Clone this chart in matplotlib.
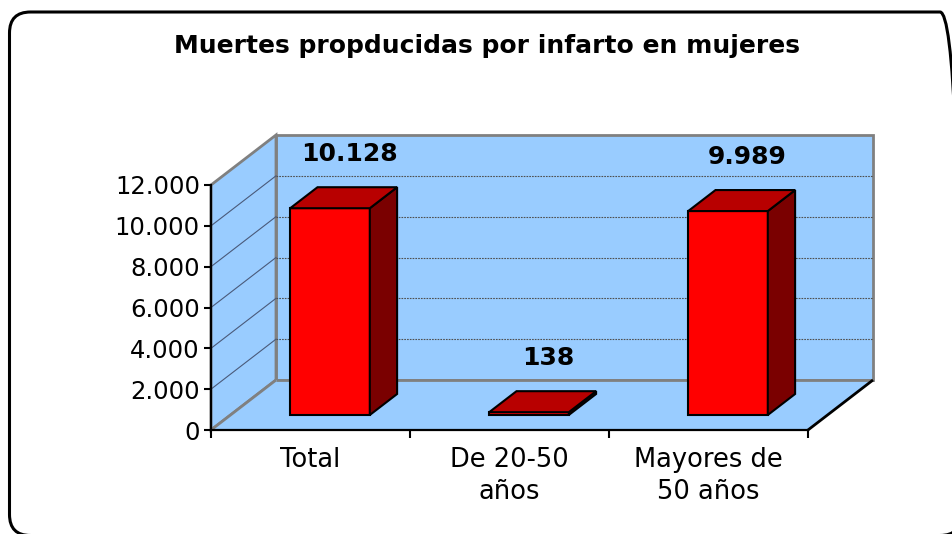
import matplotlib
matplotlib.use("Agg")
import matplotlib.pyplot as plt
from matplotlib.patches import Polygon, FancyBboxPatch

# ---- data ----
categories = ["Total", "De 20-50\naños", "Mayores de\n50 años"]
values = [10128, 138, 9989]
value_labels = ["10.128", "138", "9.989"]
yticks = [0, 2000, 4000, 6000, 8000, 10000, 12000]
title = "Muertes propducidas por infarto en mujeres"

# ---- style / layout ----
W, H = 953, 534
DPI = 100
wall_color = "#99CCFF"
edge_grey = "#808080"
grid_color = "#505050"
front_color = "#FF0000"
top_color = "#B80000"
side_color = "#7A0000"

fig = plt.figure(figsize=(W / DPI, H / DPI), dpi=DPI)
fig.patch.set_facecolor("white")

# rounded chart-area border (in inches)
bx0, bx1, by0, by1 = 9.5, 961, -1.5, 522
border = FancyBboxPatch((bx0 / DPI, by0 / DPI), (bx1 - bx0) / DPI, (by1 - by0) / DPI,
                        boxstyle="round,pad=0,rounding_size=0.21",
                        transform=fig.dpi_scale_trans, facecolor="none",
                        edgecolor="black", linewidth=2.2)
fig.patches.append(border)

fig.text(486.5 / W, (H - 53) / H, title, ha="center", va="baseline",
         fontsize=18, fontweight="bold", family="DejaVu Sans")

# front plane of plot area (pixels)
fx0, fx1, fy0, fy1 = 211, 808, 430, 185
ax = fig.add_axes([fx0 / W, (H - fy0) / H, (fx1 - fx0) / W, (fy0 - fy1) / H])
ax.set_facecolor("none")
ncat = len(categories)
xmin, xmax = -0.5, ncat - 0.5
ymin, ymax = yticks[0], yticks[-1]
ax.set_xlim(xmin, xmax)
ax.set_ylim(ymin, ymax)

# depth offsets (pixels) converted to data units
depth_px_x, depth_px_y = 65, 50
DX = depth_px_x * (xmax - xmin) / (fx1 - fx0)
DY = depth_px_y * (ymax - ymin) / (fy0 - fy1)


def proj(x, v, z):
    return (x + z * DX, v + z * DY)


def poly(pts, **kw):
    p = Polygon([proj(*q) for q in pts], closed=True, clip_on=False, **kw)
    ax.add_patch(p)
    return p


# walls
poly([(xmin, ymin, 1), (xmax, ymin, 1), (xmax, ymax, 1), (xmin, ymax, 1)],
     facecolor=wall_color, edgecolor=edge_grey, linewidth=2, zorder=1)
poly([(xmin, ymin, 0), (xmin, ymin, 1), (xmin, ymax, 1), (xmin, ymax, 0)],
     facecolor=wall_color, edgecolor=edge_grey, linewidth=2, zorder=1)
poly([(xmin, ymin, 0), (xmax, ymin, 0), (xmax, ymin, 1), (xmin, ymin, 1)],
     facecolor=wall_color, edgecolor="none", linewidth=0, zorder=1.5)

# gridlines
for v in yticks[1:-1]:
    a, b = proj(xmin, v, 1), proj(xmax, v, 1)
    ax.plot([a[0], b[0]], [a[1], b[1]], color=grid_color, lw=0.8,
            ls=(0, (1.5, 1)), clip_on=False, zorder=1.2)
    c = proj(xmin, v, 0)
    ax.plot([c[0], a[0]], [c[1], a[1]], color="#4a5a7a", lw=0.8,
            clip_on=False, zorder=1.2)

# floor edges
for (p0, p1, col) in [((xmin, ymin, 0), (xmin, ymin, 1), edge_grey),
                      ((xmin, ymin, 1), (xmax, ymin, 1), edge_grey),
                      ((xmax, ymin, 0), (xmax, ymin, 1), "black")]:
    a, b = proj(*p0), proj(*p1)
    ax.plot([a[0], b[0]], [a[1], b[1]], color=col, lw=2, clip_on=False,
            zorder=1.6, solid_capstyle="butt")

# bars
bw = 0.40
z0, z1 = 0.30, 0.72
for i, v in enumerate(values):
    x0, x1 = i - bw / 2, i + bw / 2
    kw = dict(edgecolor="black", linewidth=1.5, joinstyle="miter", zorder=3)
    poly([(x0, 0, z0), (x1, 0, z0), (x1, v, z0), (x0, v, z0)],
         facecolor=front_color, **kw)
    poly([(x1, 0, z0), (x1, 0, z1), (x1, v, z1), (x1, v, z0)],
         facecolor=side_color, **kw)
    poly([(x0, v, z0), (x1, v, z0), (x1, v, z1), (x0, v, z1)],
         facecolor=top_color, **kw)
    ax.annotate(value_labels[i], xy=proj(i, v, 0.6), xytext=(0, 28),
                textcoords="offset points", ha="center", va="center",
                fontsize=18, fontweight="bold", annotation_clip=False,
                zorder=5)

# axes
for s in ["top", "right"]:
    ax.spines[s].set_visible(False)
for s in ["left", "bottom"]:
    ax.spines[s].set_color("black")
    ax.spines[s].set_linewidth(1.6)
    ax.spines[s].set_zorder(4)

ax.set_yticks(yticks)
ax.set_yticklabels([f"{t:,}".replace(",", ".") for t in yticks])
ax.tick_params(axis="y", direction="out", length=5, width=1.5, pad=3,
               labelsize=17.5)
ax.set_xticks(range(ncat))
ax.set_xticklabels(categories, linespacing=1.3)
ax.set_xticks([xmin + k for k in range(ncat + 1)], minor=True)
ax.tick_params(axis="x", which="major", length=0, pad=12, labelsize=18.5)
ax.tick_params(axis="x", which="minor", direction="out", length=6, width=1.5)

fig.savefig("out.png", dpi=DPI, facecolor="white")
